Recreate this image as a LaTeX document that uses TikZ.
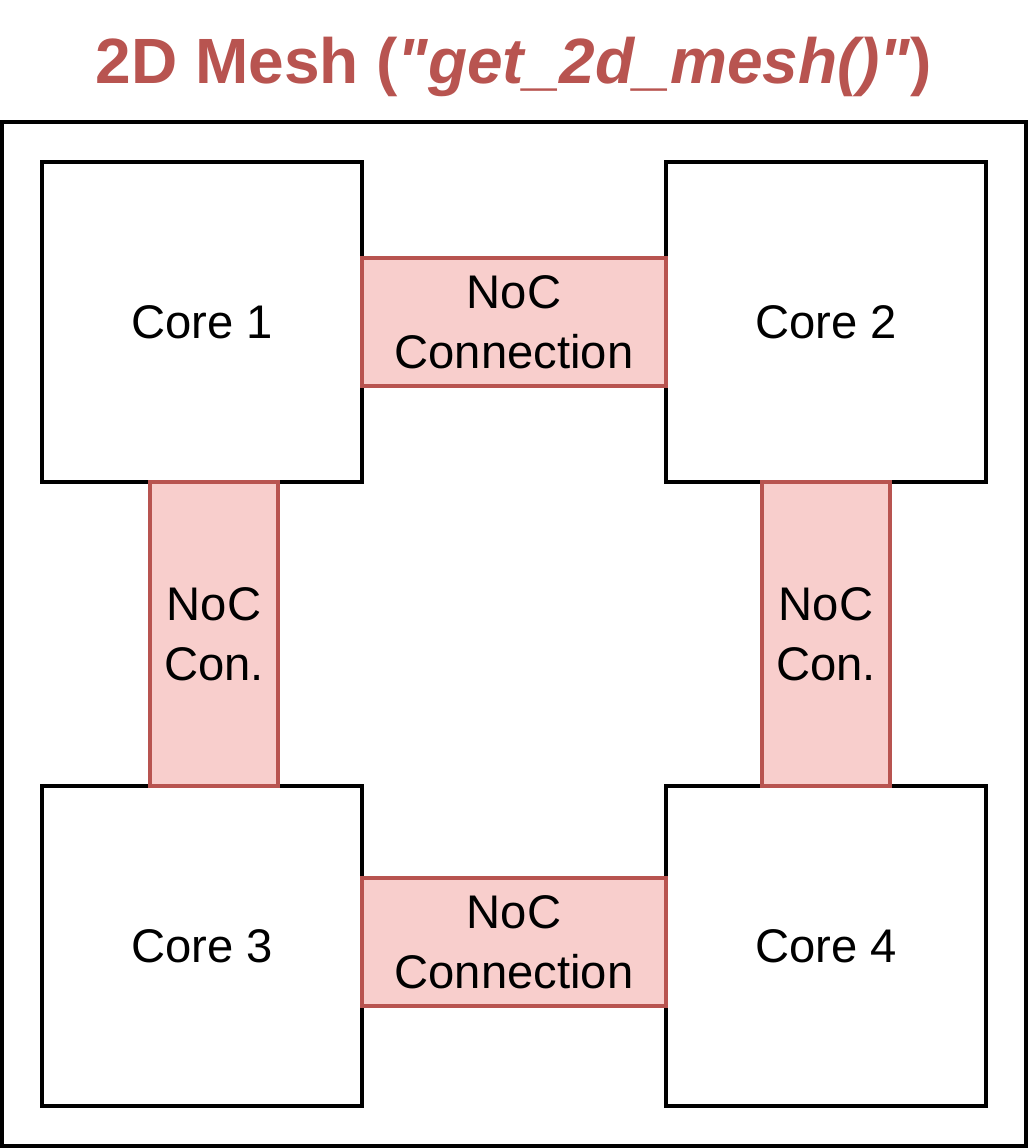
\documentclass[tikz,border=0pt]{standalone}
\usepackage{fontspec}
\setmainfont{Liberation Sans}
\newfontfamily\titlefont{Liberation Sans}
\usepackage{xcolor}
\usetikzlibrary{fit,positioning}
\definecolor{nocline}{HTML}{B85450}
\definecolor{nocfill}{HTML}{F8CECC}

\begin{document}
\begin{tikzpicture}[x=0.5pt,y=-0.5pt,node distance=152pt,every node/.style={draw, outer sep=0pt, line width=2pt}]
\tikzset{core/.style={minimum width=160pt,minimum height=160pt,font=\fontsize{23.6}{30}\selectfont}}
\tikzset{noc/.style={draw=nocline,fill=nocfill,align=center,font=\fontsize{23.6}{30}\selectfont}}

\useasboundingbox (0,0) rectangle (1028,1148);

  \node(T) [draw=none,text=nocline,anchor=base,font=\titlefont\fontsize{32}{38}\selectfont\bfseries] at (514,83) {2D Mesh (\textit{"get\_2d\_mesh()"})};

  \node(C1) [core] at (202,322) { Core 1 };
  \node(C2) [core,right=of C1] { Core 2 };
  \node(C3) [core,below=of C1] { Core 3 };
  \node(C4) [core,right=of C3] { Core 4 };
  \node(B) [fit={(C1) (C2) (C3) (C4)},inner sep=20pt] { };

  \node(N12) [noc,right=0pt of C1,minimum width=152pt,minimum height=64pt] { NoC\\Connection };
  \node(N34) [noc,right=0pt of C3,yshift=2pt,minimum width=152pt,minimum height=64pt] { NoC\\Connection };
  \node(N13) [noc,below=0pt of C1,xshift=6pt,minimum width=64pt,minimum height=152pt] { NoC\\Con. };
  \node(N24) [noc,below=0pt of C2,minimum width=64pt,minimum height=152pt] { NoC\\Con. };
\end{tikzpicture}
\end{document}
